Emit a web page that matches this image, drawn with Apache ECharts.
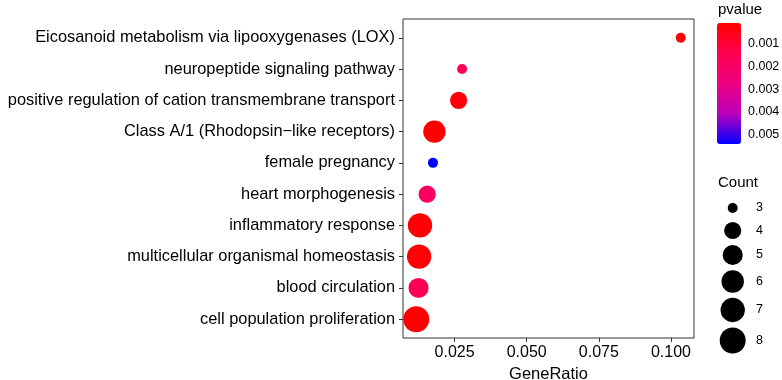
<!DOCTYPE html>
<html>
<head>
<meta charset="utf-8">
<script src="https://cdn.jsdelivr.net/npm/echarts@6/dist/echarts.min.js"></script>
<style>
  html, body { margin: 0; padding: 0; background: #fff; }
  #chart { width: 782px; height: 380px; }
</style>
</head>
<body>
<div id="chart"></div>
<script>
// terms, bottom row first (ggplot puts the first level at the bottom)
var terms = [
    'cell population proliferation',
    'blood circulation',
    'multicellular organismal homeostasis',
    'inflammatory response',
    'heart morphogenesis',
    'female pregnancy',
    'Class A/1 (Rhodopsin\u2212like receptors)',
    'positive regulation of cation transmembrane transport',
    'neuropeptide signaling pathway',
    'Eicosanoid metabolism via lipooxygenases (LOX)'
];
var geneRatio = [0.0117, 0.0125, 0.0127, 0.0130, 0.0155, 0.0175, 0.0180, 0.0264, 0.0276, 0.1034];
var pvalue = [0.00011, 0.0016, 0.0002, 0.0002, 0.0019, 0.0054, 0.00011, 0.0003, 0.0016, 0.00015];
var geneCount = [8, 5, 7, 7, 4, 3, 6, 4, 3, 3];

var xTicks = [0.025, 0.050, 0.075, 0.100];
var pTicks = [0.001, 0.002, 0.003, 0.004, 0.005];
var countLevels = [3, 4, 5, 6, 7, 8];

var chart = echarts.init(document.getElementById('chart'));

var font = '"Liberation Sans", Arial, Helvetica, sans-serif';
var cMin = Math.min.apply(null, geneCount), cMax = Math.max.apply(null, geneCount);
var pMin = Math.min.apply(null, pvalue), pMax = Math.max.apply(null, pvalue);
var gMin = Math.min.apply(null, geneRatio), gMax = Math.max.apply(null, geneRatio);
var gPad = (gMax - gMin) * 0.05;

// area scale like scale_size(): diameter grows with sqrt of the count
var sizeOf = function (c) {
    return 10 + 16 * Math.sqrt((c - cMin) / (cMax - cMin));
};

var points = terms.map(function (t, i) {
    return [geneRatio[i], i, pvalue[i], geneCount[i]];
});
var rowIdx = terms.map(function (t, i) { return i; });

// count legend keys
var legendItems = [];
var ky = 208;
countLevels.forEach(function (c, i) {
    if (i > 0) ky += 22.5 + 2 * (i - 1);
    legendItems.push({
        type: 'circle',
        shape: { cx: 732.7, cy: ky, r: sizeOf(c) / 2 },
        style: { fill: '#000' }
    });
    legendItems.push({
        type: 'text',
        x: 756, y: ky,
        style: { text: String(c), fill: '#000', font: '12.5px ' + font, verticalAlign: 'middle', align: 'left' }
    });
});

var option = {
    backgroundColor: '#fff',
    animation: false,
    grid: [
        { left: 403, right: 88, top: 19, bottom: 42, show: true, borderColor: '#333', borderWidth: 1, outerBoundsMode: 'none' },
        { left: 717, top: 23, width: 24, height: 121, outerBoundsMode: 'none' }
    ],
    xAxis: [
        {
            type: 'value',
            gridIndex: 0,
            min: gMin - gPad,
            max: gMax + gPad,
            name: 'GeneRatio',
            nameLocation: 'middle',
            nameGap: 24,
            nameTextStyle: { color: '#000', fontSize: 16.5, fontFamily: font },
            axisLine: { show: false, onZero: false },
            splitLine: { show: false },
            axisTick: { show: true, length: 4, customValues: xTicks, lineStyle: { color: '#333' } },
            axisLabel: {
                customValues: xTicks, margin: 7, color: '#000', fontSize: 16, fontFamily: font,
                formatter: function (v) { return v.toFixed(3); }
            }
        },
        { type: 'value', gridIndex: 1, show: false }
    ],
    yAxis: [
        {
            type: 'value',
            gridIndex: 0,
            min: -0.6,
            max: terms.length - 1 + 0.6,
            axisLine: { show: false, onZero: false },
            splitLine: { show: false },
            axisTick: { show: true, length: 4, customValues: rowIdx, lineStyle: { color: '#333' } },
            axisLabel: {
                customValues: rowIdx,
                margin: 8, color: '#000', fontSize: 16.4, fontFamily: font,
                formatter: function (v) { return terms[Math.round(v)]; }
            }
        },
        {
            type: 'value', gridIndex: 1, min: pMin, max: pMax, inverse: true, position: 'right',
            axisLine: { show: false, onZero: false }, splitLine: { show: false },
            axisTick: { show: true, inside: true, length: 5, customValues: pTicks, lineStyle: { color: '#fff', width: 1 } },
            axisLabel: {
                customValues: pTicks, margin: 7, color: '#000', fontSize: 12.5, fontFamily: font,
                formatter: function (v) { return v.toFixed(3); }
            }
        },
        {
            type: 'value', gridIndex: 1, min: pMin, max: pMax, inverse: true, position: 'left',
            axisLine: { show: false, onZero: false }, splitLine: { show: false },
            axisTick: { show: true, inside: true, length: 5, customValues: pTicks, lineStyle: { color: '#fff', width: 1 } },
            axisLabel: { show: false }
        }
    ],
    visualMap: {
        type: 'continuous',
        seriesIndex: 0,
        dimension: 2,
        min: pMin,
        max: pMax,
        inverse: true,
        calculable: false,
        hoverLink: false,
        left: 717,
        top: 23,
        padding: 0,
        itemWidth: 24,
        itemHeight: 121,
        text: null,
        showLabel: false,
        inRange: { color: ['#FF0000', '#FF0050', '#EE0080', '#BB00BB', '#0000FF'] },
        z: 1
    },
    graphic: [
        { type: 'text', x: 718, y: 10, style: { text: 'pvalue', fill: '#000', font: '15px ' + font, verticalAlign: 'middle' } },
        { type: 'text', x: 718, y: 183, style: { text: 'Count', fill: '#000', font: '15px ' + font, verticalAlign: 'middle' } }
    ].concat(legendItems),
    series: [
        {
            type: 'scatter',
            xAxisIndex: 0,
            yAxisIndex: 0,
            data: points,
            symbolSize: function (val) { return sizeOf(val[3]); },
            itemStyle: { opacity: 1 }
        }
    ]
};

chart.setOption(option);
</script>
</body>
</html>
